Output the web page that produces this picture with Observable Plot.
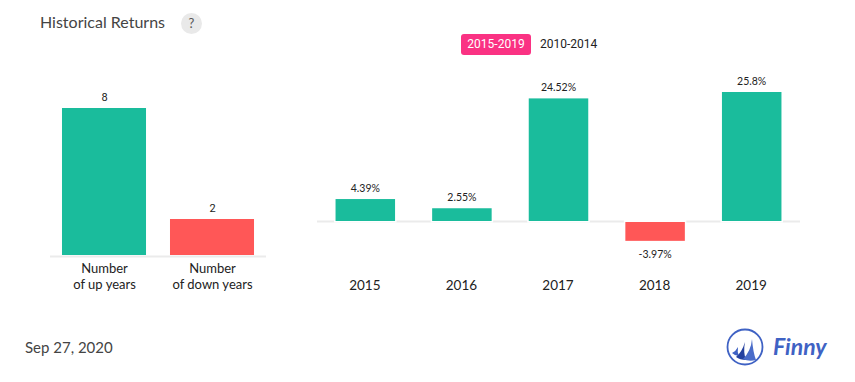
<!DOCTYPE html>
<html>
<head>
<meta charset="utf-8">
<script src="https://cdn.jsdelivr.net/npm/d3@7"></script>
<script src="https://cdn.jsdelivr.net/npm/@observablehq/plot@0.6"></script>
<style>
html,body{margin:0;padding:0;background:#fff;overflow:hidden}
#page{position:relative;width:855px;height:382px;font-family:Lato,sans-serif}
#page>div{position:absolute;white-space:nowrap}
#left,#right{left:0;top:0}
#left svg,#right svg{display:block;background:transparent}
#title{left:40px;top:12px;font-size:16px;line-height:20px;color:#444}
#help{left:181px;top:13px;width:21px;height:21px;border-radius:50%;background:#e9e9e9;color:#555;font-size:13px;line-height:21px;text-align:center}
#on{left:461px;top:34px;width:70px;height:21px;border-radius:3px;background:#fa3283;color:#fff;font:12px/21px Roboto,sans-serif;text-align:center}
#off{left:540px;top:34px;color:#222;font:12px/21px Roboto,sans-serif}
#date{left:25px;top:337px;font-size:15px;line-height:20px;color:#444}
#logo{left:725px;top:326px}
</style>
</head>
<body>
<div id="page">
  <div id="left"></div>
  <div id="right"></div>
  <div id="title">Historical Returns</div>
  <div id="help">?</div>
  <div id="on">2015-2019</div>
  <div id="off">2010-2014</div>
  <div id="date">Sep 27, 2020</div>
  <div id="logo">
    <svg width="110" height="42" viewBox="0 0 110 42">
      <circle cx="20" cy="21" r="17.5" fill="none" stroke="#3f62c4" stroke-width="1.8"/>
      <path d="M7 27 Q11 25 13 21 Q12 26 14 30 Q10 30 7 27 Z" fill="#3f62c4"/>
      <path d="M11 31 Q17 26 20 16 Q18 26 21 34 Q15 34 11 31 Z" fill="#24409f"/>
      <path d="M18 33 Q26 25 27 13 Q28 26 31 34 Q24 36 18 33 Z" fill="#4a6cc9"/>
      <text x="48" y="29" font-family="Lato,sans-serif" font-style="italic" font-weight="700" font-size="23" fill="#3f62c4">Finny</text>
    </svg>
  </div>
</div>
<script>
const countLabels = ["Number\nof up years", "Number\nof down years"];
const countValues = [8, 2];
const years = ["2015", "2016", "2017", "2018", "2019"];
const returns = [4.39, 2.55, 24.52, -3.97, 25.8];
const returnLabels = ["4.39%", "2.55%", "24.52%", "-3.97%", "25.8%"];

const green = "#1abc9c", red = "#ff5757", ruleColor = "#ebebeb";
const labelFont = {fontFamily: "Lato, sans-serif", fontSize: 10.5, fill: "#222", dx: -0.5};

const counts = countLabels.map((label, i) => ({label, value: countValues[i]}));
const rows = years.map((year, i) => ({year, value: returns[i], text: returnLabels[i]}));

const left = Plot.plot({
  width: 300, height: 382,
  marginLeft: 50, marginRight: 34, marginTop: 0, marginBottom: 0,
  style: {background: "transparent"},
  x: {domain: countLabels, paddingInner: 0.222, paddingOuter: 0.111, round: false, axis: null},
  y: {domain: [0, 8], range: [255, 108], axis: null},
  marks: [
    Plot.ruleY([0], {stroke: ruleColor, strokeWidth: 2, dy: 1}),
    Plot.barY(counts, {filter: d => d.value >= 4, x: "label", y: "value", fill: green}),
    Plot.barY(counts, {filter: d => d.value < 4, x: "label", y: "value", fill: red, insetTop: 0.75}),
    Plot.text(counts, {filter: d => d.value >= 4, x: "label", y: "value", text: d => String(d.value), dy: -11, fontFamily: "Roboto, sans-serif", fontSize: 11, fill: "#222"}),
    Plot.text(counts, {filter: d => d.value < 4, x: "label", y: "value", text: d => String(d.value), dy: -10, fontFamily: "Roboto, sans-serif", fontSize: 11, fill: "#222"}),
    Plot.axisX({anchor: "bottom", y: 0, tickSize: 0, tickPadding: 0, dy: 20.5, lineHeight: 1.23, fontSize: 13, fontFamily: "Lato, sans-serif", fill: "#222", textAnchor: "middle", lineAnchor: "middle", label: null, tickFormat: d => d})
  ]
});
document.getElementById("left").appendChild(left);

const right = Plot.plot({
  width: 855, height: 382,
  marginLeft: 317, marginRight: 55, marginTop: 0, marginBottom: 0,
  style: {background: "transparent"},
  x: {domain: years, paddingInner: 0.384, paddingOuter: 0.192, round: false, axis: null},
  y: {domain: [0, 25.8], range: [221, 92], axis: null},
  marks: [
    Plot.ruleY([0], {stroke: ruleColor, strokeWidth: 2}),
    Plot.barY(rows, {x: "year", y: "value", fill: "#fff", stroke: "#fff", strokeWidth: 3}),
    Plot.barY(rows, {filter: d => d.value >= 0, x: "year", y: "value", fill: green}),
    Plot.barY(rows, {filter: d => d.value < 0, x: "year", y: "value", fill: red, insetTop: 1}),
    Plot.text(rows, {filter: d => d.value >= 0, x: "year", y: "value", text: "text", ...labelFont, dy: -11}),
    Plot.text(rows, {filter: d => d.value < 0, x: "year", y: "value", text: "text", ...labelFont, dy: 13}),
    Plot.axisX({y: 0, anchor: "bottom", tickSize: 0, tickPadding: 0, dy: 58.5, dx: -1, fontSize: 13.5, fontFamily: "Lato, sans-serif", fill: "#222", label: null})
  ]
});
document.getElementById("right").appendChild(right);
</script>
</body>
</html>
